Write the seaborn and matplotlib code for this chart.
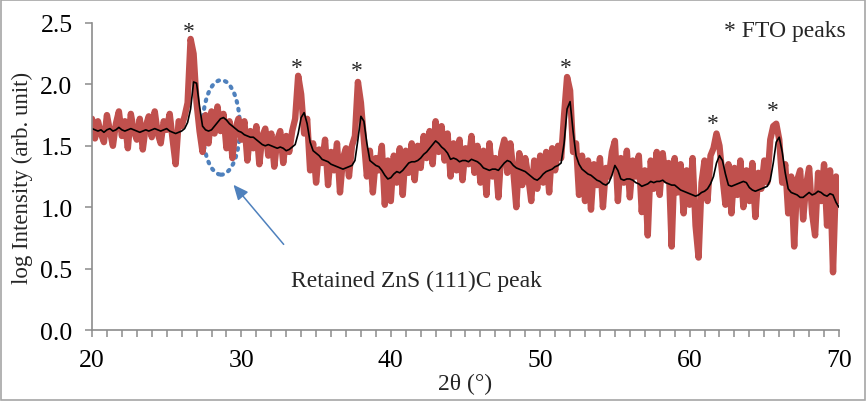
import numpy as np
import pandas as pd
import matplotlib
matplotlib.use("Agg")
import matplotlib.pyplot as plt
import seaborn as sns
from matplotlib.patches import Ellipse, Rectangle
from matplotlib.ticker import MultipleLocator, FormatStrFormatter

#-----------------------------------------
# data (0.2 deg steps)
#-----------------------------------------
two_theta = np.round(np.arange(20.0, 70.01, 0.2), 1)

raw_log_int = [
    1.72, 1.56, 1.70, 1.60, 1.53, 1.75, 1.62, 1.50, 1.68, 1.78,
    1.58, 1.70, 1.48, 1.76, 1.62, 1.55, 1.72, 1.47, 1.66, 1.74,
    1.57, 1.78, 1.60, 1.52, 1.70, 1.63, 1.76, 1.55, 1.35, 1.70,
    1.66, 1.74, 1.85, 2.37, 2.25, 1.85, 1.62, 1.45, 1.75, 1.52,
    1.78, 1.60, 1.82, 1.62, 1.76, 1.48, 1.70, 1.40, 1.64, 1.72,
    1.55, 1.70, 1.38, 1.62, 1.48, 1.66, 1.35, 1.58, 1.64, 1.42,
    1.60, 1.33, 1.55, 1.62, 1.36, 1.58, 1.45, 1.62, 1.72, 2.07,
    1.92, 1.60, 1.72, 1.30, 1.52, 1.20, 1.47, 1.36, 1.55, 1.18,
    1.45, 1.30, 1.52, 1.12, 1.40, 1.48, 1.25, 1.50, 1.58, 2.02,
    1.85, 1.55, 1.25, 1.46, 1.12, 1.40, 1.30, 1.50, 1.02, 1.38,
    1.05, 1.42, 1.20, 1.48, 1.10, 1.46, 1.28, 1.52, 1.22, 1.50,
    1.32, 1.58, 1.40, 1.62, 1.35, 1.70, 1.45, 1.66, 1.38, 1.60,
    1.25, 1.52, 1.30, 1.55, 1.22, 1.48, 1.35, 1.58, 1.28, 1.50,
    1.20, 1.46, 1.10, 1.52, 1.25, 1.40, 1.08, 1.45, 1.55, 1.28,
    1.52, 1.30, 1.00, 1.44, 1.18, 1.40, 1.25, 1.05, 1.38, 1.15,
    1.42, 1.20, 1.45, 1.12, 1.48, 1.30, 1.50, 1.40, 1.75, 2.06,
    1.95, 1.45, 1.52, 1.10, 1.42, 1.05, 1.38, 0.98, 1.35, 1.18,
    1.40, 1.00, 1.32, 1.25, 1.45, 1.54, 1.05, 1.40, 1.20, 1.46,
    1.08, 1.38, 1.25, 1.42, 0.96, 1.30, 0.77, 1.38, 1.15, 1.45,
    1.10, 1.44, 1.22, 1.36, 0.68, 1.40, 1.12, 1.35, 0.95, 1.30,
    1.02, 1.40, 0.85, 0.59, 1.20, 1.38, 1.05, 1.42, 1.48, 1.60,
    1.50, 1.25, 1.02, 1.35, 0.95, 1.32, 1.10, 1.38, 1.00, 1.30,
    1.05, 1.36, 0.92, 1.28, 1.15, 1.38, 1.20, 1.55, 1.66, 1.68,
    1.55, 1.20, 1.35, 0.95, 1.25, 0.68, 1.22, 1.30, 0.90, 1.18,
    1.32, 0.95, 0.77, 1.28, 1.05, 1.35, 0.85, 1.30, 0.47, 1.25,
    1.05,
]

smooth_log_int = [
    1.64, 1.63, 1.62, 1.63, 1.61, 1.63, 1.64, 1.62, 1.63, 1.65,
    1.63, 1.62, 1.63, 1.64, 1.63, 1.62, 1.61, 1.62, 1.63, 1.62,
    1.63, 1.64, 1.63, 1.62, 1.63, 1.64, 1.62, 1.61, 1.60, 1.61,
    1.62, 1.64, 1.69, 1.80, 2.02, 2.01, 1.82, 1.66, 1.63, 1.62,
    1.63, 1.66, 1.69, 1.72, 1.73, 1.71, 1.68, 1.66, 1.64, 1.62,
    1.61, 1.59, 1.58, 1.57, 1.57, 1.55, 1.53, 1.51, 1.50, 1.51,
    1.50, 1.49, 1.48, 1.49, 1.48, 1.46, 1.47, 1.49, 1.51, 1.60,
    1.73, 1.77, 1.68, 1.53, 1.46, 1.44, 1.42, 1.39, 1.38, 1.37,
    1.35, 1.34, 1.33, 1.32, 1.31, 1.32, 1.33, 1.34, 1.38, 1.55,
    1.74, 1.70, 1.52, 1.38, 1.36, 1.34, 1.33, 1.30, 1.26, 1.23,
    1.24, 1.27, 1.29, 1.28, 1.30, 1.33, 1.36, 1.37, 1.37, 1.38,
    1.40, 1.43, 1.45, 1.48, 1.51, 1.54, 1.52, 1.49, 1.47, 1.44,
    1.39, 1.40, 1.39, 1.37, 1.38, 1.38, 1.37, 1.39, 1.38, 1.37,
    1.35, 1.32, 1.31, 1.30, 1.31, 1.31, 1.30, 1.33, 1.36, 1.38,
    1.37, 1.34, 1.32, 1.31, 1.30, 1.29, 1.27, 1.25, 1.23, 1.22,
    1.24, 1.27, 1.29, 1.30, 1.31, 1.33, 1.34, 1.36, 1.52, 1.80,
    1.86, 1.62, 1.42, 1.35, 1.31, 1.29, 1.27, 1.26, 1.24, 1.22,
    1.21, 1.19, 1.18, 1.20, 1.26, 1.34, 1.30, 1.23, 1.22, 1.23,
    1.23, 1.22, 1.20, 1.19, 1.17, 1.18, 1.19, 1.21, 1.20, 1.21,
    1.21, 1.22, 1.20, 1.19, 1.18, 1.18, 1.16, 1.14, 1.13, 1.12,
    1.11, 1.10, 1.09, 1.10, 1.12, 1.13, 1.15, 1.19, 1.25, 1.36,
    1.42, 1.38, 1.27, 1.18, 1.17, 1.18, 1.19, 1.20, 1.21, 1.20,
    1.16, 1.14, 1.13, 1.14, 1.15, 1.16, 1.17, 1.22, 1.36, 1.53,
    1.57, 1.45, 1.28, 1.15, 1.12, 1.11, 1.10, 1.08, 1.08, 1.10,
    1.12, 1.10, 1.11, 1.13, 1.12, 1.10, 1.09, 1.11, 1.10, 1.04,
    1.00,
]

# FTO peak markers (position, baseline height of the asterisk)
fto_pos = [26.45, 33.72, 37.74, 51.73, 61.57, 65.58]
fto_y = [2.39, 2.09, 2.07, 2.09, 1.64, 1.74]

df = pd.DataFrame({'two_theta': two_theta, 'raw': raw_log_int, 'smooth': smooth_log_int})

sns.set_style("white")
plt.rcParams['font.family'] = ['Liberation Serif', 'DejaVu Serif']

fig = plt.figure(figsize=(8.67, 4.02), dpi=100)
ax = fig.add_axes([0.1061, 0.1766, 0.8616, 0.7637])

sns.lineplot(data=df, x='two_theta', y='raw', ax=ax, color='#C0504D', linewidth=4.6)
sns.lineplot(data=df, x='two_theta', y='smooth', ax=ax, color='black', linewidth=1.2)

ax.set_xlim(20, 70)
ax.set_ylim(0, 2.5)
ax.xaxis.set_major_locator(MultipleLocator(10))
ax.xaxis.set_minor_locator(MultipleLocator(1))
ax.yaxis.set_major_locator(MultipleLocator(0.5))
ax.yaxis.set_major_formatter(FormatStrFormatter('%.1f'))

grey = '#8C8C8C'
for side in ['top', 'right']:
    ax.spines[side].set_visible(False)
for side in ['left', 'bottom']:
    ax.spines[side].set_color(grey)
    ax.spines[side].set_linewidth(1.2)
ax.tick_params(axis='both', which='both', direction='out', length=5, width=1.1,
               color=grey, labelsize=18.5, labelcolor='black', pad=9)
ax.tick_params(axis='x', which='major', pad=9)
ax.tick_params(axis='both', which='both', bottom=True, left=True)

ax.set_xlabel('2θ (°)', fontsize=17, labelpad=1)
ax.set_ylabel('log Intensity (arb. unit)', fontsize=16.5, labelpad=5)

for xp, yp in zip(fto_pos, fto_y):
    ax.text(xp, yp, '*', fontsize=17, ha='center', va='baseline')

ax.text(70.45, 2.44, '* FTO peaks', fontsize=17, ha='right', va='center')
ax.text(33.3, 0.40, 'Retained ZnS (111)C peak', fontsize=17, ha='left', va='center')

ell = Ellipse((28.65, 1.65), 2.5, 0.77, fill=False, edgecolor='#4F81BD',
              linestyle=(0, (0.4, 1.5)), linewidth=3.0, capstyle='round')
ax.add_patch(ell)
ax.annotate('', xy=(29.35, 1.20), xytext=(32.95, 0.68),
            arrowprops=dict(arrowstyle='-|>,head_length=0.9,head_width=0.4',
                            color='#4F81BD', linewidth=1.1))

fig.patches.append(Rectangle((0.001, 0.002), 0.997, 0.995, transform=fig.transFigure,
                             fill=False, edgecolor='#A6A6A6', linewidth=1.2))

fig.savefig('out.png', dpi=100)
